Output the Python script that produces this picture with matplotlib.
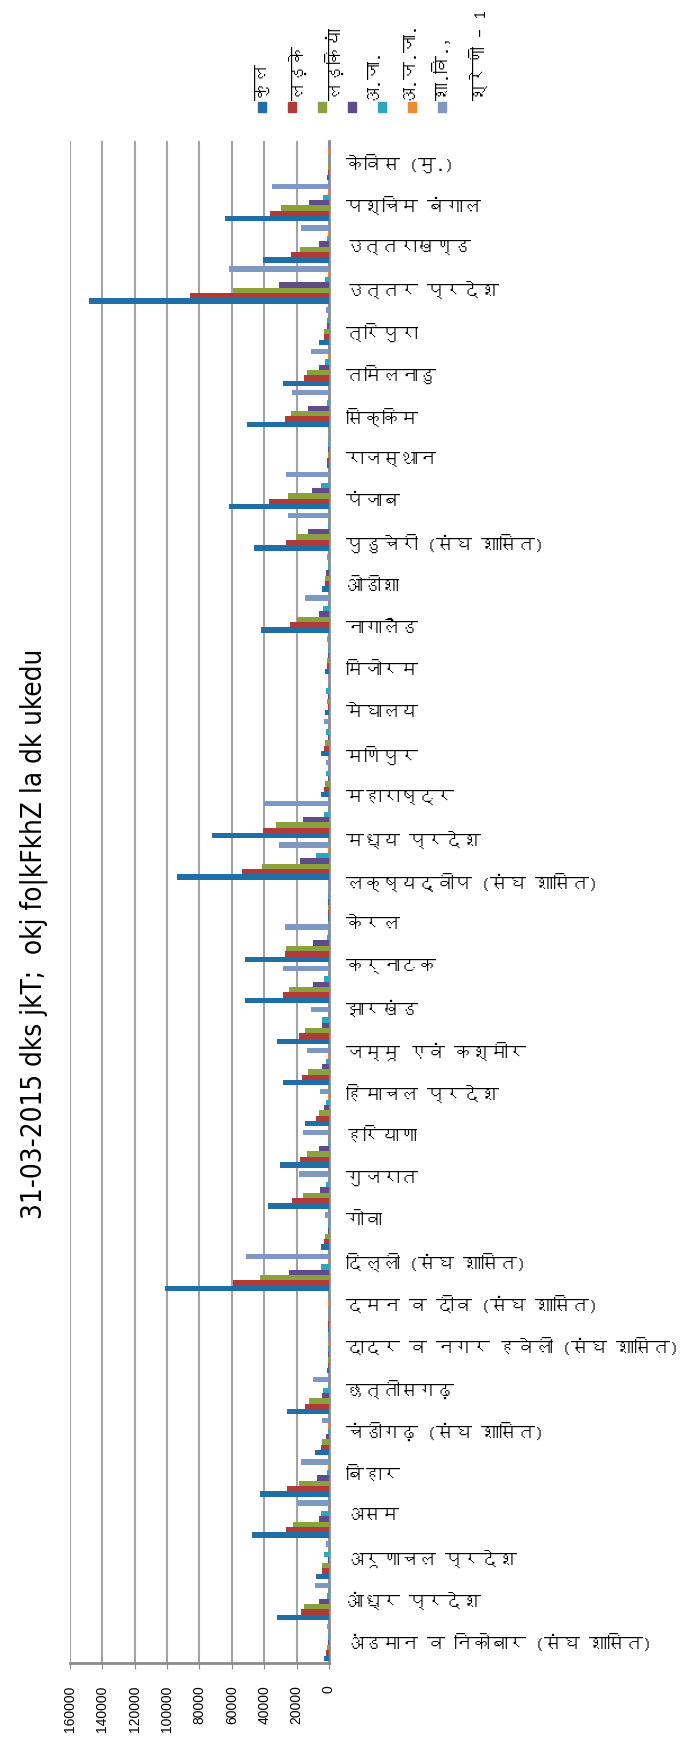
import numpy as np
import matplotlib
matplotlib.use("Agg")
import matplotlib.pyplot as plt
from matplotlib import font_manager, ft2font
from matplotlib.patches import Rectangle


# look for any installed font that has Devanagari glyphs
def find_font(ch):
    for f in font_manager.fontManager.ttflist:
        try:
            if ord(ch) in ft2font.FT2Font(f.fname).get_charmap():
                return f.name
        except Exception:
            pass
    return None


deva = find_font("क")
hindi = [deva, "DejaVu Sans"] if deva else ["DejaVu Sans"]
plt.rcParams["font.family"] = ["Liberation Sans", "DejaVu Sans"]

title = "31-03-2015 dks jkT;  okj fo|kFkhZ la dk ukedu"

# category names, bottom to top
states = ['अंडमान व निकोबार (संघ शासित)', 'आंध्र प्रदेश', 'अरूणाचल प्रदेश', 'असम', 'बिहार',
          'चंडीगढ़ (संघ शासित)', 'छत्तीसगढ़', 'दादर व नगर हवेली (संघ शासित)',
          'दमन व दीव (संघ शासित)', 'दिल्ली (संघ शासित)', 'गोवा', 'गुजरात', 'हरियाणा',
          'हिमाचल प्रदेश', 'जम्मू एवं कश्मीर', 'झारखंड', 'कर्नाटक', 'केरल',
          'लक्ष्यद्वीप (संघ शासित)', 'मध्य प्रदेश', 'महाराष्ट्र', 'मणिपुर', 'मेघालय',
          'मिजोरम', 'नागालैंड', 'ओडीशा', 'पुडुचेरी (संघ शासित)', 'पंजाब', 'राजस्थान',
          'सिक्किम', 'तमिलनाडु', 'त्रिपुरा', 'उत्तर प्रदेश', 'उत्तराखण्ड', 'पश्चिम बंगाल',
          'केविस (मु.)']

series_names = ['कुल', 'लड़के', 'लड़कियां', 'अ.जा.', 'अ.ज.जा.', 'शा.वि.,', 'श्रेणी – 1']
colors = ['#1f6ea6', '#b03a38', '#8aa23e', '#5f4b8b', '#2ba7bf', '#ee8a32', '#7d98c2']

# the picture has 37 bar groups (bottom to top) but only 36 labels
kul = [3300, 31900, 8000, 47500, 42800, 8600, 25900, 1400, 800, 101400, 4900, 37800,
       30000, 15000, 28600, 31900, 51600, 51600, 600, 94200, 72400, 4900, 4900, 2500,
       2500, 41900, 4300, 46500, 61700, 1400, 50400, 28600, 6200, 148000, 40700, 64000, 1400]
ladke = [1600, 17300, 4300, 26300, 25700, 4900, 15000, 700, 300, 59200, 3100, 22800,
         17700, 8000, 16400, 18300, 28600, 27100, 300, 54000, 40700, 3100, 3100, 800,
         1000, 24000, 2500, 26300, 36800, 1000, 27100, 15600, 3300, 86000, 23600, 36200, 800]
ladkiyan = [1400, 15400, 4300, 22200, 18500, 4300, 12300, 600, 200, 42800, 2500, 16200,
            13800, 6200, 13000, 15000, 24900, 26500, 300, 41300, 32500, 2500, 2500, 1200,
            1400, 19900, 2500, 20400, 25500, 800, 23600, 13800, 3300, 59200, 18100, 29800, 600]
aja = [300, 6200, 600, 6200, 7400, 1800, 4300, 300, 200, 24700, 800, 5800,
       6200, 3300, 4500, 4300, 9900, 9900, 600, 18100, 15800, 400, 400, 300,
       300, 6200, 1600, 13000, 10300, 300, 13000, 6200, 1000, 30600, 6200, 12300, 200]
ajja = [300, 1400, 3100, 4900, 1400, 300, 3700, 300, 200, 4900, 300, 2000,
        600, 2000, 1800, 4300, 3100, 1400, 600, 7800, 3100, 1800, 1800, 1800,
        600, 3700, 800, 600, 4900, 600, 1400, 2700, 1400, 2700, 1400, 3700, 200]
shavi = [200, 200, 200, 200, 300, 600, 200, 400, 300, 500, 200, 200,
         200, 300, 300, 200, 200, 200, 100, 400, 200, 100, 100, 100,
         100, 200, 100, 100, 200, 100, 200, 300, 200, 500, 300, 300, 400]
shreni = [1400, 8800, 2000, 19500, 17300, 4300, 9900, 500, 300, 51000, 2500, 18700,
          16000, 5600, 13800, 11100, 28400, 26900, 300, 30600, 40100, 1800, 3300, 800,
          1400, 15000, 1200, 25500, 26300, 800, 22800, 11300, 2000, 61700, 17500, 35200, 300]

data = [kul, ladke, ladkiyan, aja, ajja, shavi, shreni]

fig = plt.figure(figsize=(6.91, 17.39), dpi=100)
ax = fig.add_axes([0.1013, 0.0437, 0.3748, 0.8752])

y = np.arange(len(kul))
h = 0.13
for k, vals in enumerate(data):
    ax.barh(y + (k - 3) * h, vals, height=h, color=colors[k], edgecolor='none', zorder=3)

ax.set_xlim(160000, 0)
ax.set_ylim(-0.5, len(kul) - 0.5)
ax.set_xticks(np.arange(0, 160001, 20000))
ax.set_xticklabels([str(v) for v in range(0, 160001, 20000)], rotation=90, fontsize=10)
ax.tick_params(axis='x', length=4, color='#8c8c8c', pad=12)
ax.set_yticks([])
ax.grid(axis='x', color='#a3a3a3', linewidth=1.5, zorder=0)
ax.spines['top'].set_visible(False)
ax.spines['left'].set_visible(False)
for s in ['bottom', 'right']:
    ax.spines[s].set_color('#8c8c8c')
    ax.spines[s].set_linewidth(2)

# category labels on a second y scale with 36 slots
lab = ax.twinx()
lab.set_ylim(-0.5, len(states) - 0.5)
lab.set_yticks(np.arange(len(states)))
lab.set_yticklabels(states, family=hindi, fontsize=13)
lab.tick_params(axis='y', length=0, pad=12)
for s in lab.spines.values():
    s.set_visible(False)

fig.text(0.049, 0.463, title, rotation=90, ha='center', va='center', fontsize=20,
         family=['Liberation Sans Narrow', 'DejaVu Sans'], stretch='condensed')

# legend: small boxes with rotated names above
for k, name in enumerate(series_names):
    mx = (262 + 30 * k) / 691
    fig.patches.append(Rectangle((mx - 4 / 691, 1 - 112 / 1739), 8 / 691, 10 / 1739,
                                 transform=fig.transFigure, color=colors[k]))
    fig.text((262 + 36 * k) / 691, 1 - 100 / 1739, name, rotation=90, ha='center',
             va='bottom', fontsize=13, family=hindi)

fig.savefig("out.png", dpi=100)
